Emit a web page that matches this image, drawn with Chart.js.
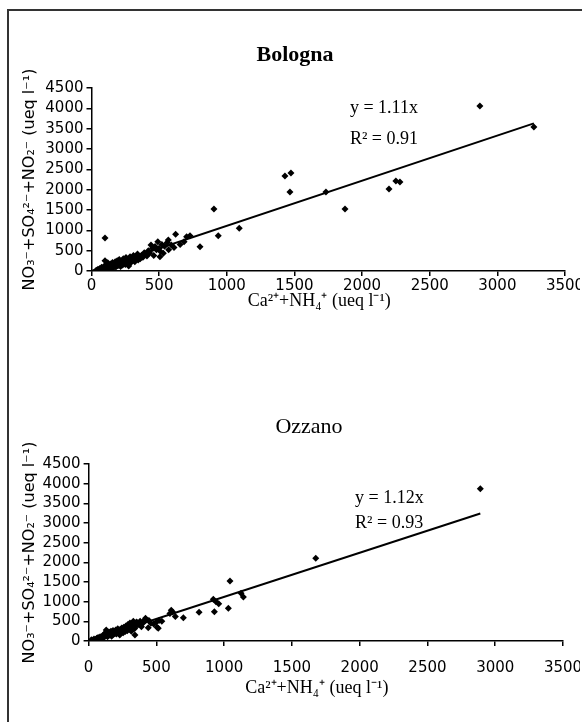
<!DOCTYPE html>
<html>
<head>
<meta charset="utf-8">
<script src="https://cdn.jsdelivr.net/npm/chart.js@4.4.0/dist/chart.umd.min.js"></script>
<style>
  html, body { margin: 0; padding: 0; background: #fff; overflow: hidden; width: 582px; height: 722px; }
  #frame { position: absolute; left: 7px; top: 9px; width: 620px; height: 760px; border: 2px solid #333; }
  canvas { position: absolute; }
</style>
</head>
<body>
<div id="frame"></div>
<canvas id="bologna" width="570" height="300" style="left:10px;top:14px"></canvas>
<canvas id="ozzano" width="570" height="310" style="left:10px;top:400px"></canvas>
<script>
// Bologna samples: Ca2+ + NH4+ (x) against NO3- + SO4 2- + NO2- (y), ueq/l
const bolognaX = [
  35, 48, 55, 62, 70, 75, 80, 85, 90, 95,
  100, 100, 105, 110, 115, 120, 125, 130, 135, 140,
  145, 150, 155, 160, 165, 170, 175, 180, 185, 190,
  195, 200, 205, 210, 215, 220, 225, 230, 235, 240,
  245, 250, 255, 260, 265, 270, 275, 280, 285, 290,
  300, 305, 310, 320, 325, 330, 340, 345, 350, 360,
  370, 380, 390, 400, 410, 420, 430, 440, 450, 460,
  470, 480, 490, 500, 506, 510, 520, 531, 540, 560,
  568, 570, 590, 610, 622, 655, 684, 703, 728, 802,
  905, 937, 1092, 1430, 1474, 1467, 1733, 1874, 2199, 2250,
  2280, 2871, 3270
];
const bolognaY = [
  20, 45, 10, 60, 30, 90, 15, 70, 40, 120,
  250, 811, 60, 150, 30, 200, 90, 110, 40, 170,
  120, 60, 210, 140, 90, 180, 230, 100, 160, 250,
  130, 200, 280, 170, 110, 240, 190, 150, 300, 210,
  250, 160, 330, 220, 190, 280, 120, 240, 350, 200,
  310, 260, 380, 230, 290, 360, 420, 270, 330, 300,
  390, 340, 450, 420, 370, 500, 440, 639, 560, 380,
  600, 520, 720, 560, 350, 480, 650, 435, 610, 700,
  762, 520, 640, 580, 902, 650, 720, 843, 868, 598,
  1525, 868, 1050, 2336, 2410, 1942, 1942, 1525, 2016, 2213,
  2188, 4057, 3540
];

// Ozzano samples
const ozzanoX = [
  20, 30, 40, 50, 60, 65, 70, 80, 85, 90,
  100, 105, 110, 115, 120, 125, 130, 135, 140, 145,
  150, 155, 160, 165, 170, 175, 180, 185, 190, 195,
  200, 205, 210, 215, 220, 225, 230, 235, 240, 245,
  250, 255, 260, 265, 270, 275, 280, 285, 290, 295,
  300, 305, 310, 315, 320, 325, 330, 335, 340, 345,
  350, 355, 342, 370, 380, 390, 400, 410, 420, 440,
  445, 460, 480, 500, 505, 514, 520, 540, 600, 610,
  620, 640, 699, 815, 920, 928, 940, 960, 1031, 1043,
  1125, 1142, 1676, 2890
];
const ozzanoY = [
  30, 20, 50, 40, 70, 30, 90, 60, 110, 80,
  120, 70, 150, 100, 200, 130, 280, 160, 110, 190,
  230, 150, 180, 250, 120, 210, 270, 170, 230, 200,
  280, 180, 240, 310, 200, 260, 150, 300, 230, 330,
  270, 210, 350, 300, 240, 380, 320, 260, 420, 350,
  300, 460, 380, 250, 420, 340, 500, 400, 320, 460,
  380, 480, 150, 420, 500, 360, 450, 520, 580, 338,
  520, 450, 430, 480, 350, 323, 520, 500, 700, 780,
  740, 620, 593, 730, 1060, 745, 1000, 950, 832, 1527,
  1213, 1120, 2104, 3870
];

// fitted lines (end points)
const bolognaFitX = [0, 3270];
const bolognaFitY = [0, 3630];
const ozzanoFitX = [0, 2890];
const ozzanoFitY = [0, 3240];

// regression labels and where they sit (data units)
const bolognaEq = ['y = 1.11x', 'R\u00B2 = 0.91'];
const bolognaEqX = [1910, 1910];
const bolognaEqY = [4010, 3250];
const ozzanoEq = ['y = 1.12x', 'R\u00B2 = 0.93'];
const ozzanoEqX = [1966, 1966];
const ozzanoEqY = [3640, 3000];

const xMax = 3500, yMax = 4500, tickStep = 500;
// trailing en spaces nudge the centred title a little to the left, as in the original
const xTitle = 'Ca\u00B2\u207A+NH\u2084\u207A (ueq l\u207B\u00B9)\u2002\u2002';
const yTitle = 'NO\u2083\u207B+SO\u2084\u00B2\u207B+NO\u2082\u207B (ueq l\u207B\u00B9)';

const toPoints = (xs, ys) => xs.map((x, i) => ({ x: x, y: ys[i] }));

// draws the site name and the equation / R2 text
const textPlugin = {
  id: 'texts',
  afterDatasetsDraw(chart, args, o) {
    const ctx = chart.ctx, sx = chart.scales.x, sy = chart.scales.y;
    ctx.save();
    ctx.fillStyle = '#000';
    ctx.textBaseline = 'middle';
    ctx.textAlign = 'center';
    ctx.font = (o.bold ? 'bold ' : '') + '22px "Liberation Serif", serif';
    ctx.fillText(o.title, o.titleX, o.titleY);
    ctx.textAlign = 'left';
    ctx.font = '18px "Liberation Serif", serif';
    o.lines.forEach((t, i) => ctx.fillText(t, sx.getPixelForValue(o.x[i]), sy.getPixelForValue(o.y[i])));
    ctx.restore();
  }
};

function makeChart(id, c) {
  return new Chart(document.getElementById(id), {
    type: 'scatter',
    data: {
      datasets: [{
        data: toPoints(c.xs, c.ys),
        pointStyle: 'rectRot',
        radius: 3.5,
        backgroundColor: '#000',
        borderColor: '#000',
        borderWidth: 0
      }, {
        type: 'line',
        data: toPoints(c.fitX, c.fitY),
        borderColor: '#000',
        borderWidth: 2,
        pointRadius: 0,
        fill: false
      }]
    },
    plugins: [textPlugin],
    options: {
      responsive: false,
      animation: false,
      layout: { padding: c.pad },
      plugins: {
        legend: { display: false },
        tooltip: { enabled: false },
        texts: { title: c.title, bold: c.bold, titleX: c.titleX, titleY: c.titleY,
                 lines: c.eq, x: c.eqX, y: c.eqY }
      },
      scales: {
        x: {
          type: 'linear', min: 0, max: xMax,
          ticks: { stepSize: tickStep, color: '#000', padding: c.xTickPad, maxRotation: 0, autoSkip: false,
                   font: { family: 'DejaVu Sans', size: 15 }, callback: v => String(v) },
          grid: { drawOnChartArea: false, tickLength: 5, color: '#000', lineWidth: 1.5 },
          border: { color: '#000', width: 1.5 },
          title: { display: true, text: xTitle, color: '#000',
                   font: { family: 'Liberation Serif', size: 18, lineHeight: 1.2 },
                   padding: { top: 0, bottom: c.xTitleBottom } },
          afterFit(s) { s.height = c.xAxisH; s.paddingLeft = 0; s.paddingRight = 0; }
        },
        y: {
          type: 'linear', min: 0, max: yMax,
          ticks: { stepSize: tickStep, color: '#000', padding: 3, autoSkip: false,
                   font: { family: 'DejaVu Sans', size: 15 }, callback: v => String(v) },
          grid: { drawOnChartArea: false, tickLength: 5, color: '#000', lineWidth: 1.5 },
          border: { color: '#000', width: 1.5 },
          title: { display: true, text: yTitle, color: '#000',
                   font: { family: 'DejaVu Sans', size: 16, lineHeight: 1.2 },
                   padding: { top: 10, bottom: 0 } },
          afterFit(s) { s.width = c.yAxisW; s.paddingTop = 0; s.paddingBottom = 0; }
        }
      }
    }
  });
}

makeChart('bologna', {
  title: 'Bologna', bold: true, titleX: 285, titleY: 41,
  xs: bolognaX, ys: bolognaY, fitX: bolognaFitX, fitY: bolognaFitY,
  eq: bolognaEq, eqX: bolognaEqX, eqY: bolognaEqY,
  pad: { left: 0, right: 15, top: 74, bottom: 0 },
  yAxisW: 81.5, xAxisH: 43, xTickPad: 1, xTitleBottom: 2
});

makeChart('ozzano', {
  title: 'Ozzano', bold: false, titleX: 299, titleY: 27,
  xs: ozzanoX, ys: ozzanoY, fitX: ozzanoFitX, fitY: ozzanoFitY,
  eq: ozzanoEq, eqX: ozzanoEqX, eqY: ozzanoEqY,
  pad: { left: 0, right: 17, top: 64, bottom: 0 },
  yAxisW: 78.6, xAxisH: 69, xTickPad: 13, xTitleBottom: 11
});
</script>
</body>
</html>
